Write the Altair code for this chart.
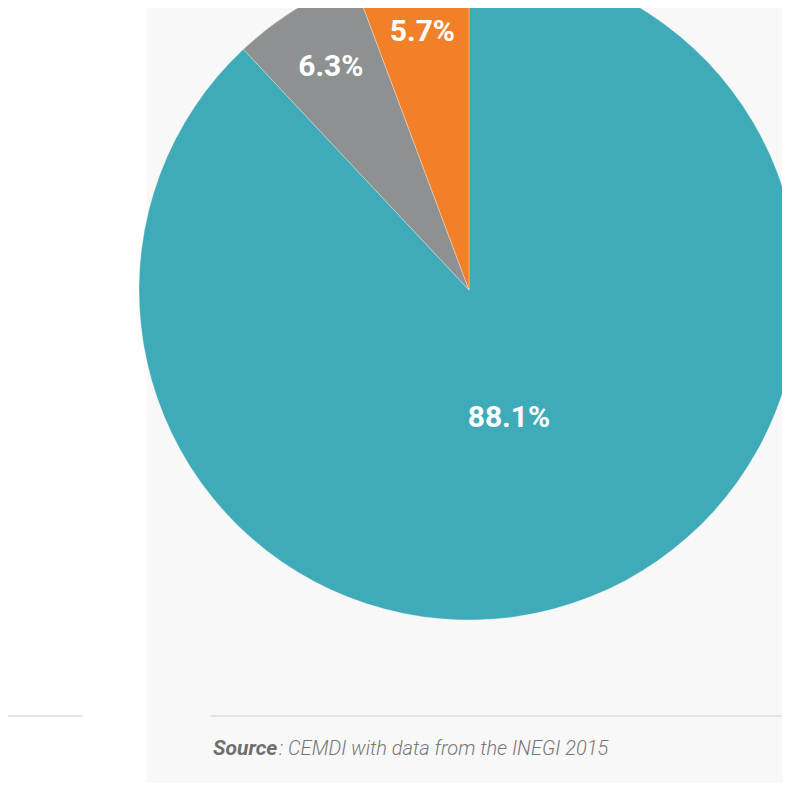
import altair as alt
import pandas as pd

# ---- data ----
categories = ["Group A", "Group B", "Group C"]
shares = [88.1, 6.3, 5.7]
labels = ["88.1%", "6.3%", "5.7%"]
colors = ["#3FABB8", "#8E9192", "#F18029"]
source_bold = ["Source"]
source_rest = [": CEMDI with data from the INEGI 2015"]

df = pd.DataFrame({
    "category": categories,
    "share": shares,
    "label": labels,
    "order": list(range(len(categories))),
})

W, H = 774, 775
CX, CY, R = 461, 282, 330

theta = alt.Theta("share:Q", stack=True)
color = alt.Color("category:N", scale=alt.Scale(domain=categories, range=colors), legend=None)
order = alt.Order("order:Q")

one = pd.DataFrame({"k": [0]})

panel = alt.Chart(one).mark_rect(color="#f8f8f8").encode(
    x=alt.value(139), x2=alt.value(W), y=alt.value(0), y2=alt.value(H)
)

arcs = alt.Chart(df).mark_arc(
    radius=R, stroke="#ffffff", strokeWidth=0.6, strokeOpacity=0.5
).encode(
    theta=theta, color=color, order=order,
    x=alt.value(CX), y=alt.value(CY),
)

big_labels = alt.Chart(df).transform_calculate(
    t="datum.share > 50 ? datum.label : ''"
).mark_text(
    radius=133, font="Roboto", fontSize=30, fontWeight="bold",
    color="white", dx=-9, dy=4,
).encode(
    theta=theta, order=order, detail="category:N", text="t:N",
    x=alt.value(CX), y=alt.value(CY),
)

small_labels = alt.Chart(df).transform_calculate(
    t="datum.share > 50 ? '' : datum.label"
).mark_text(
    radius=262, font="Roboto", fontSize=30, fontWeight="bold",
    color="white",
).encode(
    theta=theta, order=order, detail="category:N", text="t:N",
    x=alt.value(CX), y=alt.value(CY),
)

rule_left = alt.Chart(one).mark_rule(color="#cccccc", strokeWidth=1).encode(
    x=alt.value(0), x2=alt.value(75), y=alt.value(708)
)
rule_right = alt.Chart(one).mark_rule(color="#cccccc", strokeWidth=1).encode(
    x=alt.value(203), x2=alt.value(W), y=alt.value(708)
)

src1 = alt.Chart(pd.DataFrame({"t": source_bold})).mark_text(
    align="left", baseline="alphabetic", font="Roboto", fontSize=21,
    fontStyle="italic", fontWeight="bold", color="#6e6e6e",
).encode(text="t:N", x=alt.value(205), y=alt.value(747))

src2 = alt.Chart(pd.DataFrame({"t": source_rest})).mark_text(
    align="left", baseline="alphabetic", font="Roboto", fontSize=20,
    fontStyle="italic", fontWeight=300, color="#777777",
).encode(text="t:N", x=alt.value(271), y=alt.value(747))

chart = alt.layer(
    panel, arcs, big_labels, small_labels, rule_left, rule_right, src1, src2
).properties(
    width=W, height=H, padding=0, background="white",
    autosize=alt.AutoSizeParams(type="none"),
).configure_view(stroke=None)

chart.save("out.html", embed_options={"renderer": "svg", "actions": False})
